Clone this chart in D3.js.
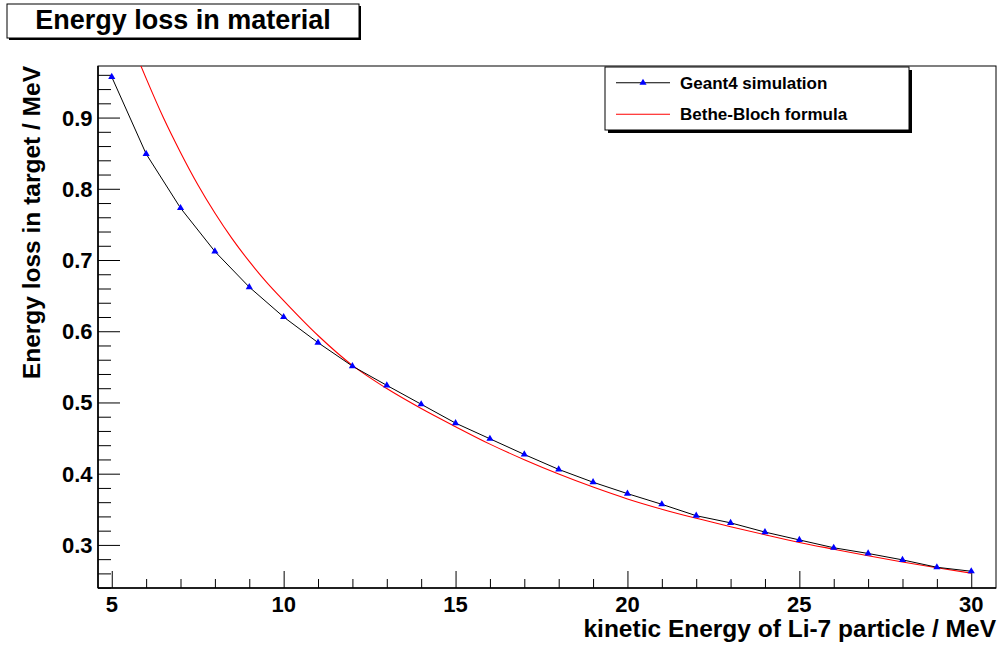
<!DOCTYPE html>
<html>
<head>
<meta charset="utf-8">
<script src="https://cdn.jsdelivr.net/npm/d3@7"></script>
<style>
  html, body { margin: 0; padding: 0; background: #fff; }
  svg { display: block; }
  text { font-family: "Liberation Sans", Arial, Helvetica, sans-serif; font-weight: bold; fill: #000; }
</style>
</head>
<body>
<svg id="chart" width="999" height="645"></svg>
<script>
// Kinetic energy of the Li-7 ion (MeV) for the simulated runs
const energies = [5, 6, 7, 8, 9, 10, 11, 12, 13, 14, 15, 16, 17, 18, 19, 20,
                  21, 22, 23, 24, 25, 26, 27, 28, 29, 30];
// Energy deposited in the target from the Geant4 runs (MeV)
const geant4Loss = [0.957, 0.849, 0.773, 0.712, 0.662, 0.620, 0.584, 0.551, 0.524, 0.4975,
                    0.471, 0.449, 0.427, 0.406, 0.388, 0.372, 0.357, 0.341, 0.331, 0.318,
                    0.307, 0.296, 0.288, 0.279, 0.2686, 0.263];
// Bethe-Bloch prediction sampled along the energy axis
const betheEnergy = [5.8, 6, 6.5, 7, 7.5, 8, 8.5, 9, 9.5, 10, 11, 12, 13, 14, 15, 16, 17,
                     18, 19, 20, 21, 22, 23, 24, 25, 26, 27, 28, 29, 30];
const betheLoss = [0.978, 0.955, 0.900, 0.851, 0.806, 0.766, 0.730, 0.698, 0.669, 0.643,
                   0.594, 0.552, 0.5195, 0.4915, 0.466, 0.4415, 0.4196, 0.3995, 0.3812, 0.3646,
                   0.3502, 0.3374, 0.3256, 0.3143, 0.3035, 0.294, 0.2848, 0.2761, 0.2679, 0.2604];
const xTickValues = [5, 10, 15, 20, 25, 30];
const yTickValues = [0.3, 0.4, 0.5, 0.6, 0.7, 0.8, 0.9];
const seriesNames = ["Geant4 simulation", "Bethe-Bloch formula"];

const svg = d3.select("#chart");
const frame = { left: 98, right: 996, top: 66, bottom: 588 };

const x = d3.scaleLinear().domain([4.6, 30.72]).range([frame.left, frame.right]);
const y = d3.scaleLinear().domain([0.2395, 0.9724]).range([frame.bottom, frame.top]);

// Title box with drop shadow
svg.append("rect").attr("x", 9).attr("y", 6).attr("width", 352).attr("height", 34).attr("fill", "#000");
svg.append("rect").attr("x", 7).attr("y", 4).attr("width", 352).attr("height", 34)
  .attr("fill", "#fff").attr("stroke", "#000").attr("stroke-width", 1);
svg.append("text").attr("x", 183).attr("y", 29).attr("text-anchor", "middle")
  .style("font-size", "27px").text("Energy loss in material");

// Plot frame
svg.append("rect").attr("x", frame.left).attr("y", frame.top)
  .attr("width", frame.right - frame.left).attr("height", frame.bottom - frame.top)
  .attr("fill", "#fff").attr("stroke", "#000").attr("stroke-width", 1);

// X axis: major ticks every 5, minor every 1, drawn inward
const xAxis = d3.axisTop(x).tickValues(xTickValues).tickSize(17).tickFormat("");
svg.append("g").attr("transform", `translate(0,${frame.bottom})`).call(xAxis)
  .call(g => g.select(".domain").remove());
const xMinor = d3.axisTop(x).tickValues(d3.range(5, 31, 1).filter(v => v % 5 !== 0)).tickSize(9).tickFormat("");
svg.append("g").attr("transform", `translate(0,${frame.bottom})`).call(xMinor)
  .call(g => g.select(".domain").remove());
svg.append("g").selectAll("text").data(xTickValues).join("text")
  .attr("x", d => x(d)).attr("y", 612).attr("text-anchor", "middle")
  .style("font-size", "22px").text(d => d3.format("d")(d));

// Y axis: major ticks every 0.1, minor every 0.02, drawn inward
const yAxis = d3.axisRight(y).tickValues(yTickValues).tickSize(22).tickFormat("");
svg.append("g").attr("transform", `translate(${frame.left},0)`).call(yAxis)
  .call(g => g.select(".domain").remove());
const yMinorVals = d3.range(12, 49).map(i => i * 0.02).filter(v => Math.abs(v * 10 - Math.round(v * 10)) > 1e-6 && v > 0.2396 && v < 0.9724);
const yMinor = d3.axisRight(y).tickValues(yMinorVals).tickSize(13).tickFormat("");
svg.append("g").attr("transform", `translate(${frame.left},0)`).call(yMinor)
  .call(g => g.select(".domain").remove());
svg.append("g").selectAll("text").data(yTickValues).join("text")
  .attr("x", 92.5).attr("y", d => y(d) + 8).attr("text-anchor", "end")
  .style("font-size", "22px").text(d => d3.format(".1f")(d));

svg.selectAll(".tick line").attr("stroke", "#000").attr("stroke-width", 1);

// Axis lines, slightly heavier than the frame
svg.append("line").attr("x1", frame.left).attr("x2", frame.left).attr("y1", frame.top).attr("y2", frame.bottom)
  .attr("stroke", "#000").attr("stroke-width", 1.6);
svg.append("line").attr("x1", frame.left).attr("x2", frame.right).attr("y1", frame.bottom).attr("y2", frame.bottom)
  .attr("stroke", "#000").attr("stroke-width", 1.6);

// Axis titles
svg.append("text").attr("x", 996).attr("y", 637).attr("text-anchor", "end")
  .style("font-size", "24.5px").text("kinetic Energy of Li-7 particle / MeV");
svg.append("text").attr("transform", "translate(39.5,66) rotate(-90)").attr("text-anchor", "end")
  .style("font-size", "24.5px").text("Energy loss in target / MeV");

// Data layer clipped to the frame
svg.append("clipPath").attr("id", "plotClip").append("rect")
  .attr("x", frame.left).attr("y", frame.top)
  .attr("width", frame.right - frame.left).attr("height", frame.bottom - frame.top);
const plot = svg.append("g").attr("clip-path", "url(#plotClip)");

const betheLine = d3.line().curve(d3.curveMonotoneX)
  .x((d, i) => x(betheEnergy[i])).y(d => y(d));
plot.append("path").datum(betheLoss).attr("d", betheLine)
  .attr("fill", "none").attr("stroke", "#ff0000").attr("stroke-width", 1.1);

const g4Line = d3.line().x((d, i) => x(energies[i])).y(d => y(d));
plot.append("path").datum(geant4Loss).attr("d", g4Line)
  .attr("fill", "none").attr("stroke", "#000").attr("stroke-width", 1);

const tri = d3.symbol().type(d3.symbolTriangle).size(22);
plot.selectAll(".marker").data(geant4Loss).join("path").attr("class", "marker")
  .attr("d", tri).attr("transform", (d, i) => `translate(${x(energies[i])},${y(d)})`)
  .attr("fill", "#0000ff");

// Legend box with drop shadow
const lg = { x: 605, y: 67, w: 304, h: 63 };
svg.append("rect").attr("x", lg.x + 3).attr("y", lg.y + 3).attr("width", lg.w).attr("height", lg.h).attr("fill", "#000");
svg.append("rect").attr("x", lg.x).attr("y", lg.y).attr("width", lg.w).attr("height", lg.h)
  .attr("fill", "#fff").attr("stroke", "#000").attr("stroke-width", 1);
const rowY = [lg.y + lg.h * 0.25, lg.y + lg.h * 0.75];
svg.append("line").attr("x1", 616).attr("x2", 670).attr("y1", rowY[0]).attr("y2", rowY[0])
  .attr("stroke", "#000").attr("stroke-width", 1);
svg.append("path").attr("d", tri).attr("transform", `translate(643,${rowY[0]})`).attr("fill", "#0000ff");
svg.append("line").attr("x1", 616).attr("x2", 670).attr("y1", rowY[1]).attr("y2", rowY[1])
  .attr("stroke", "#ff0000").attr("stroke-width", 1.1);
svg.append("g").selectAll("text").data(seriesNames).join("text")
  .attr("x", 680).attr("y", (d, i) => rowY[i] + 6).style("font-size", "17px").text(d => d);
</script>
</body>
</html>
